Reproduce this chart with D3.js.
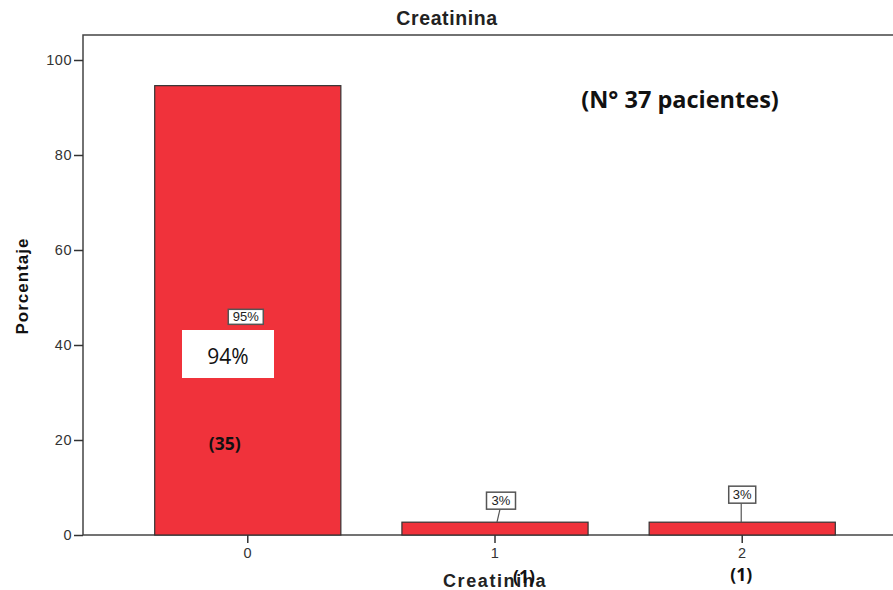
<!DOCTYPE html>
<html>
<head>
<meta charset="utf-8">
<script src="https://cdn.jsdelivr.net/npm/d3@7"></script>
<style>
  body { margin: 0; background: #fff; }
  svg { display: block; }
</style>
</head>
<body>
<svg id="chart"></svg>
<script>
// data
const categories = ["0", "1", "2"];
const percents = [94.6, 2.7, 2.7];
const pctLabels = ["95%", "3%", "3%"];
const counts = ["(35)", "(1)", "(1)"];
const yTicks = [0, 20, 40, 60, 80, 100];
const titleText = "Creatinina";
const xTitle = "Creatinina";
const yTitle = "Porcentaje";
const note = "(N° 37 pacientes)";
const overlayLabel = "94%";

const width = 893, height = 590;
const frame = { left: 83, top: 35, right: 907, bottom: 535 };
const sans = "'Liberation Sans', Arial, sans-serif";
const calib = "'Open Sans', 'Noto Sans', sans-serif";

const svg = d3.select("#chart").attr("width", width).attr("height", height);

const x = d3.scaleBand()
    .domain(categories)
    .range([frame.left, frame.right])
    .paddingInner(0.247)
    .paddingOuter(0.29);

const y = d3.scaleLinear()
    .domain([0, 100])
    .range([frame.bottom, 60]);

// frame (right edge falls outside the page)
svg.append("rect")
    .attr("x", frame.left)
    .attr("y", frame.top)
    .attr("width", frame.right - frame.left)
    .attr("height", frame.bottom - frame.top)
    .attr("fill", "none")
    .attr("stroke", "#444")
    .attr("stroke-width", 1.5);

// bars
svg.append("g").selectAll("rect")
    .data(categories)
    .join("rect")
    .attr("x", d => x(d))
    .attr("y", (d, i) => y(percents[i]))
    .attr("width", x.bandwidth())
    .attr("height", (d, i) => y(0) - y(percents[i]))
    .attr("fill", "#f0323b")
    .attr("stroke", "#333")
    .attr("stroke-width", 1.2);

// axes
const yAxis = svg.append("g")
    .attr("transform", `translate(${frame.left},0)`)
    .call(d3.axisLeft(y).tickValues(yTicks).tickSize(9).tickSizeOuter(0));
const xAxis = svg.append("g")
    .attr("transform", `translate(0,${frame.bottom})`)
    .call(d3.axisBottom(x).tickSize(8).tickSizeOuter(0));

[yAxis, xAxis].forEach(g => {
    g.select(".domain").remove();
    g.selectAll("line").attr("stroke", "#333").attr("stroke-width", 1.5);
    g.selectAll("text")
        .attr("fill", "#333")
        .style("font-family", sans)
        .style("font-size", "14.5px")
        .style("letter-spacing", "0.5px");
});
yAxis.selectAll("text").attr("x", -11);
xAxis.selectAll("text").attr("y", 13);

// title and axis titles
svg.append("text")
    .attr("x", 447).attr("y", 25)
    .attr("text-anchor", "middle")
    .style("font-family", sans)
    .style("font-size", "19.5px")
    .style("font-weight", "bold")
    .style("letter-spacing", "0.6px")
    .attr("fill", "#222")
    .text(titleText);

svg.append("text")
    .attr("x", x("1") + x.bandwidth() / 2).attr("y", 587)
    .attr("text-anchor", "middle")
    .style("font-family", sans)
    .style("font-size", "18px")
    .style("font-weight", "bold")
    .style("letter-spacing", "1.6px")
    .attr("fill", "#222")
    .text(xTitle);

svg.append("text")
    .attr("transform", `translate(28,${(frame.top + frame.bottom) / 2 + 1}) rotate(-90)`)
    .attr("text-anchor", "middle")
    .style("font-family", sans)
    .style("font-size", "17px")
    .style("font-weight", "bold")
    .style("letter-spacing", "1px")
    .attr("fill", "#111")
    .text(yTitle);

// percentage callouts
const cx = d => x(d) + x.bandwidth() / 2;
const boxes = [
    { w: 35, h: 15, dx: -2, top: y(percents[0] / 2) - 1, lead: null },
    { w: 29, h: 17, dx: 6, top: y(percents[1]) - 30, lead: 3 },
    { w: 27, h: 17, dx: 0, top: y(percents[2]) - 36, lead: 0 }
];
const callouts = svg.append("g").selectAll("g")
    .data(categories)
    .join("g");

callouts.each(function(d, i) {
    const b = boxes[i];
    const g = d3.select(this);
    const bx = cx(d) + b.dx;
    if (b.lead !== null) {
        g.append("line")
            .attr("x1", bx - 1).attr("y1", b.top + b.h)
            .attr("x2", cx(d) + b.lead - 1).attr("y2", y(percents[i]))
            .attr("stroke", "#555").attr("stroke-width", 1.2);
    }
    g.append("rect")
        .attr("x", bx - b.w / 2).attr("y", b.top)
        .attr("width", b.w).attr("height", b.h)
        .attr("fill", "#fff")
        .attr("stroke", "#555")
        .attr("stroke-width", 1.5);
    g.append("text")
        .attr("x", bx).attr("y", b.top + b.h / 2 + 4.5)
        .attr("text-anchor", "middle")
        .style("font-family", sans)
        .style("font-size", "13px")
        .attr("fill", "#222")
        .text(pctLabels[i]);
});

// pasted-over annotations
svg.append("rect")
    .attr("x", 182).attr("y", 330)
    .attr("width", 92).attr("height", 48)
    .attr("fill", "#fff");
svg.append("text")
    .attr("x", 228).attr("y", 364)
    .attr("text-anchor", "middle")
    .style("font-family", calib)
    .style("font-size", "21px")
    .attr("fill", "#111")
    .text(overlayLabel);

const countPos = [
    { dx: -23, y: 450 },
    { dx: 29, y: 583 },
    { dx: -1, y: 581 }
];
svg.append("g").selectAll("text")
    .data(categories)
    .join("text")
    .attr("x", (d, i) => cx(d) + countPos[i].dx)
    .attr("y", (d, i) => countPos[i].y)
    .attr("text-anchor", "middle")
    .style("font-family", calib)
    .style("font-size", "17.5px")
    .style("font-weight", "bold")
    .attr("fill", "#111")
    .text((d, i) => counts[i]);

svg.append("text")
    .attr("x", 680).attr("y", 108)
    .attr("text-anchor", "middle")
    .style("font-family", calib)
    .style("font-size", "23.5px")
    .style("font-weight", "bold")
    .attr("fill", "#111")
    .text(note);
</script>
</body>
</html>
